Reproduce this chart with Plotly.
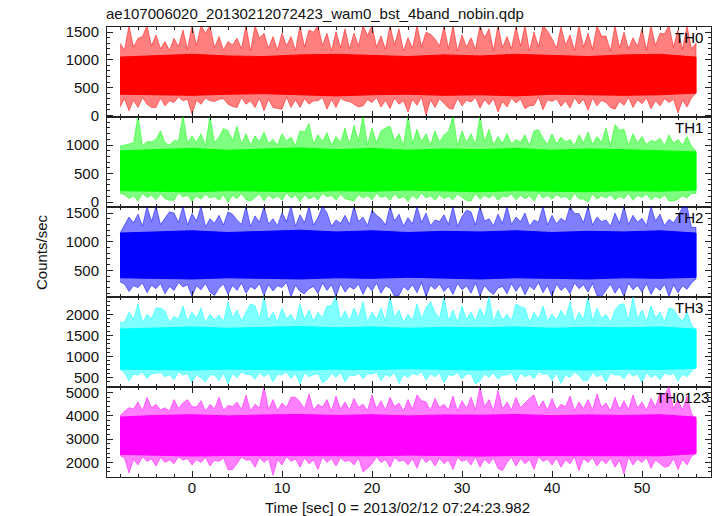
import plotly.graph_objects as go
from plotly.subplots import make_subplots

# ---------------- data ----------------
TITLE = "ae107006020_20130212072423_wam0_bst_4band_nobin.qdp"
BANDS = ["TH0", "TH1", "TH2", "TH3", "TH0123"]
COLORS = ["#ff0000", "#00ff00", "#0000ff", "#00ffff", "#ff00ff"]

# peak sample times (sec), 1 s steps
TIME = [-8, -7, -6, -5, -4, -3, -2, -1, 0, 1, 2, 3, 4, 5, 6, 7, 8, 9, 10,
        11, 12, 13, 14, 15, 16, 17, 18, 19, 20, 21, 22, 23, 24, 25, 26, 27,
        28, 29, 30, 31, 32, 33, 34, 35, 36, 37, 38, 39, 40, 41, 42, 43, 44,
        45, 46, 47, 48, 49, 50, 51, 52, 53, 54, 55, 56]
# in-between sample times (sec)
TIME_MID = [-7.5, -6.5, -5.5, -4.5, -3.5, -2.5, -1.5, -0.5, 0.5, 1.5, 2.5, 3.5,
            4.5, 5.5, 6.5, 7.5, 8.5, 9.5, 10.5, 11.5, 12.5, 13.5, 14.5, 15.5,
            16.5, 17.5, 18.5, 19.5, 20.5, 21.5, 22.5, 23.5, 24.5, 25.5, 26.5,
            27.5, 28.5, 29.5, 30.5, 31.5, 32.5, 33.5, 34.5, 35.5, 36.5, 37.5,
            38.5, 39.5, 40.5, 41.5, 42.5, 43.5, 44.5, 45.5, 46.5, 47.5, 48.5,
            49.5, 50.5, 51.5, 52.5, 53.5, 54.5, 55.5]
# dense-core sample times (sec), 4 s steps
TIME_CORE = [-8, -4, 0, 4, 8, 12, 16, 20, 24, 28, 32, 36, 40, 44, 48, 52, 56]

# ---- TH0 (counts/sec)
TH0_HI = [1300, 1620, 1390, 1620, 1450, 1330, 1390, 1540, 1620, 1620, 1620, 1420, 1330,
          1390, 1620, 1620, 1480, 1420, 1480, 1420, 1620, 1540, 1620, 1480, 1510, 1560,
          1480, 1620, 1620, 1430, 1620, 1560, 1400, 1620, 1500, 1380, 1600, 1620, 1450,
          1400, 1620, 1560, 1620, 1420, 1600, 1620, 1500, 1620, 1380, 1600, 1450, 1620,
          1480, 1620, 1430, 1620, 1500, 1400, 1560, 1620, 1480, 1620, 1540, 1620, 1300]
TH0_LO = [150, 80, 140, 200, 140, 170, 230, 260, 20, 200, 260, 290, 200, 140, 200, 140,
          80, 140, 110, 140, 140, 200, 260, 110, 140, 260, 200, 170, 230, 150, 120, 200,
          60, 180, 0, 140, 210, 110, 170, 240, 130, 190, 60, 150, 220, 120, 180, 100, 250,
          160, 130, 200, 90, 170, 230, 110, 180, 140, 210, 120, 170, 230, 40, 150, 400]
TH0_HI_MID = [1180, 1230, 1420, 1250, 1200, 1170, 1240, 1190,
              1260, 1480, 1220, 1180, 1270, 1200, 1160, 1390,
              1210, 1180, 1250, 1170, 1230, 1500, 1260, 1160,
              1220, 1200, 1250, 1440, 1230, 1190, 1270, 1160,
              1210, 1240, 1460, 1250, 1200, 1160, 1230, 1190,
              1400, 1170, 1220, 1200, 1250, 1160, 1240, 1520,
              1210, 1270, 1170, 1230, 1190, 1430, 1160, 1220,
              1200, 1240, 1180, 1260, 1470, 1230, 1190, 1200]
TH0_LO_MID = [300, 270, 320, 140, 310, 260, 330, 290,
              270, 310, 250, 300, 160, 320, 260, 310,
              290, 120, 330, 280, 300, 260, 320, 290,
              310, 250, 150, 280, 320, 270, 310, 260,
              290, 330, 280, 300, 130, 310, 270, 320,
              280, 300, 250, 310, 290, 170, 330, 280,
              300, 260, 320, 290, 310, 270, 140, 250,
              320, 280, 310, 260, 300, 290, 270, 310]
TH0_CORE_HI = [1050, 1080, 1100, 1070, 1060, 1090, 1100, 1080, 1060, 1090, 1070, 1100,
               1080, 1060, 1090, 1100, 1050]
TH0_CORE_LO = [380, 370, 360, 380, 390, 370, 350, 370, 380, 360, 370, 350, 380, 370,
               360, 370, 400]

# ---- TH1
TH1_HI = [980, 1020, 1520, 1060, 1100, 1040, 1080, 1520, 1160, 1200, 1520, 1140, 1250,
          1330, 1200, 1160, 1230, 1100, 1200, 1140, 1250, 1380, 1180, 1220, 1150, 1300,
          1350, 1520, 1300, 1250, 1330, 1200, 1520, 1280, 1200, 1250, 1180, 1520, 1250,
          1200, 1520, 1280, 1150, 1200, 1100, 1180, 1250, 1120, 1200, 1140, 1100, 1180,
          1230, 1150, 1300, 1360, 1280, 1200, 1150, 1080, 1120, 1180, 1100, 1150, 900]
TH1_LO = [150, 60, 20, 80, 40, 60, 30, 90, 10, 50, 70, 30, -10, 60, 40, 80, 20, 60, 30,
          70, 10, 50, 40, 90, 30, 60, 20, 70, 40, 80, 30, 60, 10, 50, 70, 30, 60, 40, 80,
          20, 50, 70, 30, 90, 40, 60, 20, 70, 50, 80, 30, 60, 0, 50, 70, 40, 60, 30, 80,
          40, 60, 20, 50, 70, 150]
TH1_HI_MID = [1000, 1040, 990, 1060, 1250, 1000, 1070, 1030,
              1050, 990, 1040, 1290, 1080, 1020, 1000, 1060,
              1030, 1000, 1070, 990, 1230, 1020, 1060, 1000,
              1050, 1010, 1070, 1000, 1040, 1300, 1080, 990,
              1030, 1060, 1000, 1050, 1240, 990, 1040, 1010,
              1060, 1000, 1030, 1020, 1050, 990, 1270, 1010,
              1020, 1060, 990, 1040, 1010, 1050, 990, 1260,
              1000, 1040, 1010, 1060, 990, 1030, 1000, 980]
TH1_LO_MID = [130, 110, 150, 120, 140, 30, 160, 120,
              110, 140, 100, 130, 120, 150, 20, 140,
              130, 110, 160, 120, 130, 100, 150, 120,
              140, 40, 130, 110, 150, 110, 140, 100,
              120, 160, 110, 130, 100, 140, 30, 150,
              120, 130, 100, 140, 120, 110, 160, 120,
              130, 100, 150, 50, 140, 110, 130, 100,
              150, 120, 140, 100, 130, 20, 110, 150]
TH1_CORE_HI = [900, 920, 940, 910, 930, 950, 920, 940, 910, 930, 920, 940, 910, 930,
               920, 900, 880]
TH1_CORE_LO = [200, 190, 180, 200, 190, 180, 200, 190, 210, 190, 180, 200, 190, 180,
               200, 190, 210]

# ---- TH2
TH2_HI = [1150, 1430, 1480, 1620, 1620, 1420, 1500, 1620, 1490, 1620, 1400, 1460, 1520,
          1380, 1620, 1450, 1620, 1400, 1510, 1620, 1470, 1620, 1420, 1500, 1380, 1460,
          1620, 1430, 1550, 1400, 1620, 1480, 1420, 1620, 1500, 1380, 1470, 1620, 1440,
          1520, 1620, 1400, 1480, 1620, 1430, 1500, 1380, 1620, 1460, 1410, 1620, 1490,
          1620, 1430, 1380, 1500, 1620, 1460, 1410, 1620, 1480, 1390, 1450, 1620, 1250]
TH2_LO = [300, 130, 200, 110, 180, 90, 150, 210, 40, 160, 120, 190, 80, 150, 100, 170,
          60, 140, 200, 40, 130, 180, 90, 150, 40, 120, 170, 80, 140, 100, 190, 60, 150,
          110, 40, 170, 130, 80, 160, 100, 50, 140, 190, 90, 130, 70, 160, 110, 40, 150,
          90, 180, 120, 60, 140, 100, 40, 160, 120, 80, 150, 40, 110, 170, 350]
TH2_HI_MID = [1280, 1330, 1270, 1350, 1300, 1520, 1340, 1290,
              1360, 1260, 1320, 1290, 1480, 1300, 1270, 1340,
              1310, 1280, 1350, 1270, 1330, 1290, 1620, 1270,
              1320, 1300, 1350, 1280, 1460, 1290, 1360, 1270,
              1310, 1340, 1280, 1350, 1300, 1270, 1550, 1290,
              1360, 1280, 1320, 1300, 1350, 1270, 1340, 1290,
              1310, 1350, 1490, 1330, 1290, 1350, 1270, 1320,
              1300, 1340, 1280, 1360, 1280, 1330, 1600, 1250]
TH2_LO_MID = [260, 230, 280, 240, 270, 220, 290, 250,
              230, 270, 60, 260, 240, 280, 220, 270,
              250, 230, 290, 240, 90, 220, 280, 250,
              270, 220, 260, 240, 280, 230, 50, 220,
              250, 290, 240, 260, 220, 270, 230, 280,
              240, 80, 220, 270, 250, 230, 290, 240,
              260, 220, 280, 250, 270, 40, 260, 220,
              280, 240, 270, 220, 260, 250, 230, 280]
TH2_CORE_HI = [1150, 1170, 1190, 1160, 1180, 1200, 1170, 1190, 1160, 1180, 1170, 1190,
               1160, 1180, 1170, 1190, 1150]
TH2_CORE_LO = [370, 360, 350, 370, 360, 350, 370, 360, 380, 360, 350, 370, 360, 350,
               370, 360, 380]

# ---- TH3
TH3_HI = [1800, 2050, 2250, 2000, 2150, 2080, 1950, 2200, 2050, 2150, 2000, 1980, 2300,
          2100, 2050, 2200, 2430, 2050, 2150, 2000, 2250, 2100, 2050, 2200, 2430, 2080,
          2150, 2300, 2050, 2150, 2430, 2100, 2000, 2250, 2150, 2050, 2430, 2100, 2200,
          2050, 2150, 2430, 2100, 2000, 2250, 2150, 2050, 2200, 2000, 2100, 2300, 2050,
          2430, 2150, 2000, 2100, 2250, 2430, 2100, 2200, 2050, 2150, 1950, 2050, 1600]
TH3_LO = [700, 420, 560, 480, 600, 520, 450, 560, 380, 500, 560, 430, 340, 500, 580, 460,
          520, 400, 560, 480, 350, 520, 600, 450, 510, 400, 540, 470, 580, 430, 520, 360,
          500, 560, 440, 520, 380, 550, 470, 590, 420, 510, 460, 560, 400, 520, 470, 580,
          430, 360, 500, 550, 440, 520, 400, 560, 470, 530, 380, 500, 450, 560, 420, 520,
          750]
TH3_HI_MID = [1820, 1880, 1800, 1900, 2150, 1810, 1890, 1840,
              1910, 1800, 1870, 1830, 1920, 1850, 2250, 1890,
              1860, 1820, 1900, 1810, 1880, 1840, 1910, 2200,
              1870, 1850, 1900, 1820, 1880, 1840, 1920, 1810,
              1860, 1890, 2300, 1900, 1850, 1810, 1880, 1840,
              1910, 1820, 1870, 1850, 2180, 1810, 1890, 1840,
              1860, 1910, 1810, 1880, 1840, 1900, 1810, 2230,
              1850, 1890, 1830, 1910, 1820, 2120, 1840, 1750]
TH3_LO_MID = [610, 580, 630, 590, 620, 570, 640, 600,
              580, 400, 560, 610, 590, 630, 570, 620,
              600, 580, 640, 590, 610, 570, 380, 600,
              620, 560, 610, 590, 630, 580, 620, 570,
              600, 640, 590, 610, 570, 620, 580, 350,
              590, 610, 560, 620, 600, 580, 640, 590,
              610, 570, 630, 420, 620, 580, 610, 560,
              630, 590, 620, 570, 610, 600, 580, 650]
TH3_CORE_HI = [1650, 1680, 1700, 1670, 1690, 1710, 1680, 1700, 1670, 1690, 1680, 1700,
               1670, 1690, 1680, 1700, 1650]
TH3_CORE_LO = [700, 690, 680, 700, 690, 680, 700, 690, 710, 690, 680, 700, 690, 680,
               700, 690, 720]

# ---- TH0123
TH0123_HI = [4000, 4350, 4600, 4800, 4500, 4350, 4700, 4550, 4400, 4650, 4500, 4800,
             4450, 4600, 4900, 4500, 5260, 4700, 4550, 4800, 4600, 4950, 4500, 4700,
             4850, 4600, 4750, 4500, 4900, 4650, 4800, 4550, 4700, 4900, 4600, 4750,
             4500, 4850, 4650, 4800, 5260, 4700, 5100, 4600, 4800, 4550, 4900, 4650,
             4750, 4500, 4850, 4600, 4700, 4950, 4550, 4800, 4650, 4900, 4600, 4750,
             5000, 5260, 4700, 4850, 3800]
TH0123_LO = [2300, 1550, 1900, 2050, 1850, 2000, 1950, 2100, 1900, 2000, 1850, 2050,
             1700, 1950, 2100, 1800, 2000, 1450, 1900, 2050, 1800, 1950, 1700, 2000,
             1850, 2050, 1900, 1600, 1950, 2000, 1800, 2050, 1900, 1750, 2000, 1850,
             1950, 1700, 2050, 1900, 1800, 1950, 1750, 2000, 1850, 1950, 1700, 2050,
             1900, 1800, 1950, 1650, 2000, 1850, 1950, 1800, 1500, 1900, 2000, 1750,
             1950, 1850, 1700, 1900, 2400]
TH0123_HI_MID = [4200, 4300, 4220, 4350, 4260, 4210, 4330, 4700,
                 4380, 4200, 4310, 4240, 4400, 4270, 4220, 4340,
                 4280, 4230, 4360, 4800, 4310, 4250, 4380, 4220,
                 4300, 4260, 4370, 4230, 4320, 4250, 4400, 4210,
                 4290, 4650, 4240, 4360, 4270, 4210, 4320, 4250,
                 4380, 4230, 4300, 4260, 4360, 4750, 4340, 4250,
                 4280, 4390, 4220, 4320, 4250, 4370, 4210, 4300,
                 4270, 4340, 4240, 4380, 4900, 4310, 4250, 4100]
TH0123_LO_MID = [2200, 2130, 2240, 2150, 2220, 2110, 2250, 2170,
                 2130, 2220, 2100, 2200, 1700, 2240, 2120, 2210,
                 2170, 2130, 2250, 2150, 2200, 2110, 2240, 2170,
                 2210, 2100, 2200, 1750, 2240, 2130, 2220, 2110,
                 2170, 2250, 2150, 2200, 2110, 2220, 2130, 2240,
                 2150, 2200, 1650, 2220, 2170, 2130, 2250, 2150,
                 2200, 2110, 2240, 2170, 2210, 2130, 2200, 2100,
                 2240, 2150, 2220, 2110, 1800, 2170, 2130, 2260]
TH0123_CORE_HI = [3950, 4020, 4050, 4000, 4040, 4060, 4020, 4050, 4000, 4040, 4030,
                  4060, 4010, 4040, 4020, 4050, 3950]
TH0123_CORE_LO = [2350, 2300, 2280, 2300, 2320, 2280, 2300, 2290, 2320, 2300, 2280,
                  2300, 2290, 2310, 2300, 2290, 2380]

# axis ranges, ticks
Y_RANGES = [[-31, 1593], [-87, 1493], [35, 1605], [277, 2410], [1380, 5240]]
Y_DTICK = [500, 500, 500, 500, 1000]
Y_MINOR = [100, 100, 100, 100, 200]
X_RANGE = [-9.444, 57.667]

HI = [TH0_HI, TH1_HI, TH2_HI, TH3_HI, TH0123_HI]
LO = [TH0_LO, TH1_LO, TH2_LO, TH3_LO, TH0123_LO]
HI_MID = [TH0_HI_MID, TH1_HI_MID, TH2_HI_MID, TH3_HI_MID, TH0123_HI_MID]
LO_MID = [TH0_LO_MID, TH1_LO_MID, TH2_LO_MID, TH3_LO_MID, TH0123_LO_MID]
CORE_HI = [TH0_CORE_HI, TH1_CORE_HI, TH2_CORE_HI, TH3_CORE_HI, TH0123_CORE_HI]
CORE_LO = [TH0_CORE_LO, TH1_CORE_LO, TH2_CORE_LO, TH3_CORE_LO, TH0123_CORE_LO]

# ---------------- figure ----------------
FONT = "Liberation Sans, Arial, Helvetica, sans-serif"


def rgba(hexc, a):
    h = hexc.lstrip("#")
    return "rgba(%d,%d,%d,%.2f)" % (int(h[0:2], 16), int(h[2:4], 16), int(h[4:6], 16), a)


def interleave(peaks, mids):
    out = []
    for k, p in enumerate(peaks):
        out.append(p)
        if k < len(mids):
            out.append(mids[k])
    return out


T_ALL = interleave(TIME, TIME_MID)

fig = make_subplots(rows=5, cols=1, shared_xaxes=True, vertical_spacing=0)

for i in range(5):
    row = i + 1
    col = COLORS[i]
    up = interleave(HI[i], HI_MID[i])
    dn = interleave(LO[i], LO_MID[i])
    # outer band: spikes to the extremes
    fig.add_trace(go.Scatter(
        x=T_ALL + T_ALL[::-1], y=up + dn[::-1], mode="lines",
        fill="toself", fillcolor=rgba(col, 0.5), line=dict(width=0.6, color=rgba(col, 0.8)),
        hoverinfo="skip", showlegend=False), row=row, col=1)
    # dense core
    fig.add_trace(go.Scatter(
        x=TIME_CORE + TIME_CORE[::-1], y=CORE_HI[i] + CORE_LO[i][::-1], mode="lines",
        fill="toself", fillcolor=col, line=dict(width=1, color=col),
        hoverinfo="skip", showlegend=False), row=row, col=1)

axis_common = dict(
    showline=True, linecolor="#222222", linewidth=1, mirror="allticks",
    ticks="inside", ticklen=6, tickwidth=1, tickcolor="#222222",
    showgrid=False, zeroline=False, automargin=False,
    tickfont=dict(family=FONT, size=15, color="#111111"),
)

for i in range(5):
    row = i + 1
    fig.update_xaxes(
        range=X_RANGE, tick0=0, dtick=10,
        minor=dict(dtick=2, tick0=0, ticks="inside", ticklen=3, tickcolor="#222222", showgrid=False),
        showticklabels=(row == 5), ticklabelstandoff=-3, row=row, col=1, **axis_common)
    fig.update_yaxes(
        range=Y_RANGES[i], tick0=0, dtick=Y_DTICK[i],
        minor=dict(dtick=Y_MINOR[i], tick0=0, ticks="inside", ticklen=3, tickcolor="#222222", showgrid=False),
        ticklabelstandoff=4, row=row, col=1, **axis_common)

PLOT_H = 516 - 27 - 39
annotations = [
    dict(text=TITLE, xref="paper", yref="paper", x=-3 / 604, xanchor="left",
         y=1 + 13 / PLOT_H, yanchor="middle", showarrow=False,
         font=dict(family=FONT, size=15, color="#111111")),
    dict(text="Counts/sec", xref="paper", yref="paper", x=(41 - 107) / 604, y=0.5,
         xanchor="center", yanchor="middle", textangle=-90, showarrow=False,
         font=dict(family=FONT, size=15, color="#111111")),
    dict(text="Time [sec] 0 = 2013/02/12 07:24:23.982", xref="paper", yref="paper",
         x=(397.5 - 107) / 604, y=-30 / PLOT_H, xanchor="center", yanchor="middle",
         showarrow=False, font=dict(family=FONT, size=15, color="#111111")),
]
LABEL_X = [673, 673, 673, 673, 654]
for i in range(5):
    ydom = "y domain" if i == 0 else "y%d domain" % (i + 1)
    annotations.append(dict(
        text=BANDS[i], xref="paper", yref=ydom, x=(LABEL_X[i] - 107) / 604,
        xanchor="left", y=1 - 10.5 / 90, yanchor="middle", showarrow=False,
        font=dict(family=FONT, size=15, color="#000000")))

fig.update_layout(
    width=717, height=516,
    margin=dict(l=107, r=6, t=27, b=39, pad=0),
    paper_bgcolor="white", plot_bgcolor="white",
    showlegend=False, annotations=annotations,
    font=dict(family=FONT, size=15, color="#111111"),
)

fig.write_html("out.html", config={"displayModeBar": False},
               post_script="document.body.style.margin='0px';document.body.style.padding='0px';")
